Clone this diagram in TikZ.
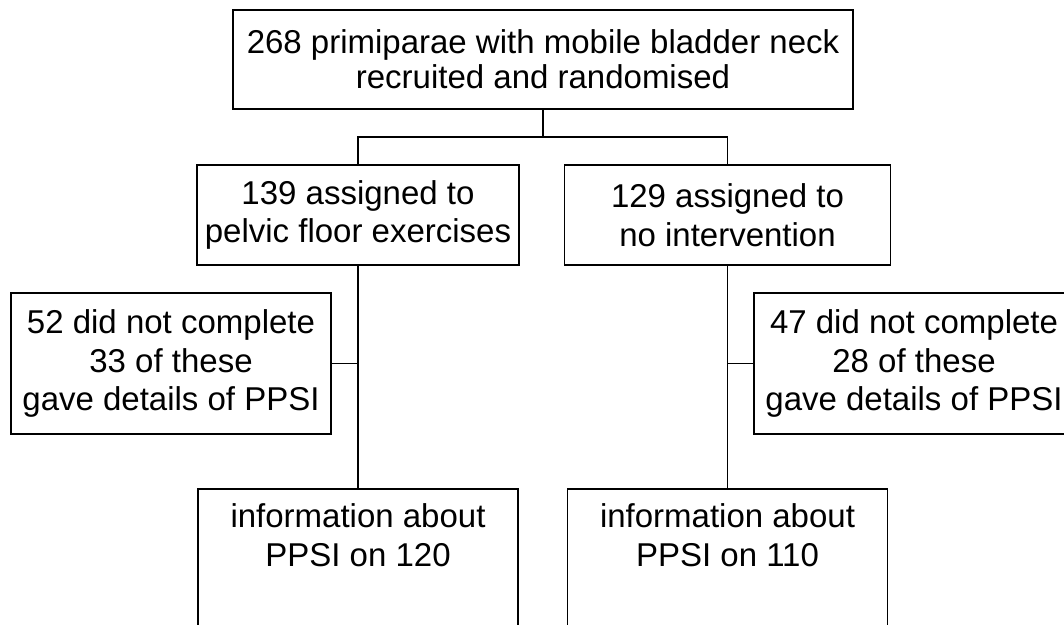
\documentclass[tikz,border=0pt]{standalone}
\usepackage{fontspec}
\setmainfont{Liberation Sans}

\begin{document}
\begin{tikzpicture}[x=1pt,y=-1pt,line width=1.8pt,
        box/.style={draw,align=center,inner sep=0pt,
            font=\fontsize{33}{38.5}\selectfont},
        resbox/.style={box,anchor=north,minimum width=320,
            inner ysep=15,text depth=160}]
        \useasboundingbox (0,0) rectangle (1064,624);
        \node[box,minimum width=620,minimum height=99,
            font=\fontsize{33}{35}\selectfont] (recruit) at (543,59.5)
            {268 primiparae with mobile bladder neck\\recruited and randomised};
        \node[box,minimum width=322,minimum height=100] (pfe) at (358,215)
            {139 assigned to\\pelvic floor exercises};
        \node[box,minimum width=326,minimum height=100] (none) at (727.5,215)
            {129 assigned to\\no intervention};
        \node[box,minimum width=320,minimum height=141] (droppfe) at (171,363.5)
            {52 did not complete\\33 of these\\gave details of PPSI};
        \node[box,minimum width=320,minimum height=141] (dropnone) at (914,363.5)
            {47 did not complete\\28 of these\\gave details of PPSI};
        \node[resbox] (respfe) at (358,488) {information about\\PPSI on 120};
        \node[resbox] (resnone) at (727.5,488) {information about\\PPSI on 110};
        \coordinate (split) at (543,137);
        \draw (recruit.south) -- (split) -| (pfe.north);
        \draw (split) -| (none.north);
        \draw (pfe.south) -- (respfe.north);
        \draw (none.south) -- (resnone.north);
        \draw (droppfe.east) -- (droppfe.east -| pfe.south);
        \draw (dropnone.west) -- (dropnone.west -| none.south);
    \end{tikzpicture}
\end{document}
